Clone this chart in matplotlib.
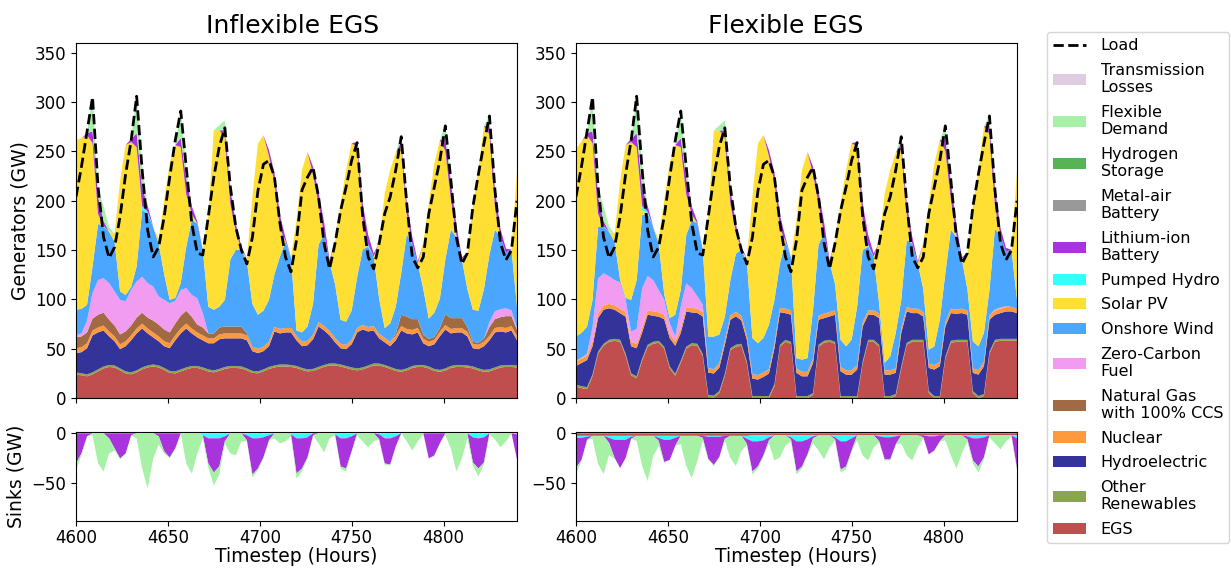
import matplotlib
matplotlib.use("Agg")
import matplotlib.pyplot as plt
from matplotlib.patches import Patch
from matplotlib.lines import Line2D

hours = list(range(4600, 4841, 3))

load = [204, 235, 270, 305, 214, 163, 142, 153, 184, 227, 261, 306, 231, 170, 143, 153,
        184, 224, 261, 291, 234, 177, 147, 145, 184, 224, 255, 274, 214, 173, 150, 136,
        163, 210, 237, 241, 224, 177, 143, 128, 160, 211, 224, 234, 204, 157, 131, 157,
        190, 214, 241, 259, 184, 143, 131, 157, 187, 204, 231, 265, 197, 143, 132, 143,
        187, 214, 241, 276, 221, 163, 136, 147, 194, 227, 258, 286, 211, 157, 140, 150, 200]

# ---------------- Inflexible EGS : generators ----------------
inf_egs = [24, 23, 22, 24, 27, 30, 31.5, 31, 28, 25, 24, 26, 29, 31, 32, 31,
           28.5, 25.5, 25, 27, 29, 30.5, 30.5, 29, 27, 26, 27.5, 29.5, 30.5, 30.5, 30, 28,
           25.5, 25, 27, 29.5, 31, 32, 32, 31.5, 30.5, 28.5, 27, 27.5, 29.5, 31.5, 33, 33,
           32, 30.5, 29, 28, 29, 31, 33, 33, 31.5, 29.5, 27.5, 26.5, 28, 30.5, 31.5, 31.5,
           30, 27.5, 26.5, 28, 30.5, 31.5, 31.5, 31, 30, 28, 26.5, 27, 29, 31, 31.5, 31.5, 31]
inf_other = [2, 2, 2, 2, 2, 2, 2, 2, 2, 2, 2, 2, 2, 2, 2, 2,
             2, 2, 2, 2, 2, 2, 2, 2, 2, 2, 2, 2, 2, 2, 2, 2,
             2, 2, 2, 2, 2, 2, 2, 2, 2, 2, 2, 2, 2, 2, 2, 2,
             2, 2, 2, 2, 2, 2, 2, 2, 2, 2, 2, 2, 2, 2, 2, 2,
             2, 2, 2, 2, 2, 2, 2, 2, 2, 2, 2, 2, 2, 2, 2, 2, 2]
inf_hydro = [19.5, 21.5, 26.5, 37.5, 37.5, 36.5, 29, 24.5, 19.5, 25.5, 32.5, 37.5, 39.5, 32.5, 27.5, 24.5,
             22, 23, 31.5, 36.5, 39.5, 33, 29, 27.5, 26.5, 27.5, 30, 29, 28, 28, 28.5, 28.5,
             20, 18.5, 18.5, 21, 34.5, 31.5, 32.5, 33, 26, 22, 24.5, 30, 41, 35, 28.5, 21.5,
             16.5, 17, 23.5, 36.5, 38.5, 34.5, 33.5, 25.5, 23, 21, 29, 40, 35.5, 32, 33, 22,
             20.5, 25, 34, 39.5, 33, 33, 33, 29.5, 18.5, 19.5, 24, 29.5, 35.5, 34.5, 33, 35, 25.5]
inf_nuclear = [5, 5, 5, 5, 5, 5, 5, 5, 5, 5, 5, 5, 5, 5, 5, 5,
               5, 5, 5, 5, 5, 5, 5, 5, 5, 5, 5, 5, 5, 5, 5, 5,
               4.5, 4.5, 4.5, 4.5, 4.5, 4.5, 4.5, 4.5, 4.5, 4.5, 4.5, 4.5, 4.5, 4.5, 4.5, 4.5,
               4.5, 4.5, 4.5, 4.5, 4.5, 4.5, 4.5, 4.5, 4.5, 4.5, 4.5, 4.5, 4.5, 4.5, 4.5, 4.5,
               4.5, 4.5, 4.5, 4.5, 4.5, 4.5, 4.5, 4.5, 4.5, 4.5, 4.5, 4.5, 4.5, 4.5, 4.5, 4.5, 4.5]
inf_gas = [11, 11, 11, 12, 13, 13, 12, 11, 10, 10, 10, 11, 11, 11, 12, 12,
           12, 11, 12, 13, 13, 12, 8, 8, 5, 5, 7, 7, 7, 7, 7, 2,
           0, 0, 0, 0, 0, 0, 0, 0, 0, 0, 0, 0, 0, 0, 0, 0,
           0, 0, 0, 0, 0, 0, 0, 0, 0, 0, 2, 11.5, 12.5, 11, 9, 4,
           3, 3, 4, 11, 11, 10, 10, 5, 2, 2, 3, 9, 9, 10, 12, 10, 6]
inf_zcf = [2, 3, 12, 26, 35, 35, 37, 34.5, 35, 30.5, 36, 36.5, 36.5, 35, 34.5, 28.5,
           30, 29.5, 23, 26, 23, 22, 26.5, 14.5, 0, 0, 0, 0, 0, 0, 0, 0,
           0, 0, 0, 0, 0, 0, 0, 0, 0, 0, 0, 0, 0, 0, 0, 0,
           0, 0, 0, 0, 0, 0, 0, 0, 0, 0, 0, 0, 0, 0, 0, 0,
           0, 0, 0, 0, 0, 0, 0, 0, 0, 0, 0, 5, 8, 8, 8, 6, 2]
inf_wind = [26, 25, 16, 27, 57, 52, 52, 50.5, 8.5, 6.5, 3, 15.5, 67.5, 70.5, 60.5, 53.5,
            26, 3.5, 3, 7, 42, 76, 76, 64.5, 27, 24, 21, 27, 68, 78, 78, 73,
            43.5, 34.5, 36.5, 42.5, 53.5, 73.5, 87.5, 71.5, 5.5, 9.5, 14.5, 31.5, 78.5, 93.5, 69.5, 54.5,
            24.3, 23.5, 29.5, 51.5, 76.5, 81.5, 70.5, 35.5, 10, 18.5, 27.5, 42.5, 83.5, 76.5, 56.5, 46.5,
            20.5, 24.5, 29.5, 55.5, 89.5, 82.5, 59.5, 38.5, 32.5, 32.5, 50.5, 68.5, 82.5, 73.5, 56.5, 61.5, 21.5]
inf_solar = [172, 173, 172, 125, 10, 0, 0, 8, 112.5, 152, 147, 121, 0, 0, 0, 5,
             75, 138.5, 155, 138, 53, 5, 0, 0, 92, 182, 179, 165, 56, 18, 0, 3,
             109, 173.5, 178, 146, 93, 27, 0, 0, 112, 165, 177, 131, 41, 0, 0, 44,
             118, 154, 170, 132, 30, 0, 0, 57, 136.5, 156, 156, 127, 21, 0, 0, 47,
             117, 151.5, 161, 110, 31, 0, 0, 37, 106, 143, 165, 122, 23, 0, 0, 0, 138]
inf_pumped = [0, 0, 0, 0, 0, 1, 0, 0, 0, 0, 0, 0, 4, 2, 0, 0,
              0, 0, 0, 0, 0, 1, 0, 0, 0, 0, 0, 0, 0, 0, 0, 0,
              0, 0, 0, 0, 0, 1, 1, 0, 0, 0, 0, 0, 0, 0, 0, 0,
              0, 0, 0, 0, 0, 2, 0, 0, 0, 0, 0, 0, 0, 0, 0, 0,
              0, 0, 0, 0, 0, 2, 0, 0, 0, 0, 0, 0, 0, 0, 0, 0, 0]
inf_liion = [0, 0, 2, 12, 18, 5, 0, 0, 0, 0, 3, 14, 19, 6, 0, 0,
             0, 0, 0, 9, 16, 8, 2, 0, 0, 0, 0, 7, 16, 8, 3, 0,
             0, 0, 0, 6, 10, 14, 3, 0, 0, 0, 0, 8, 12, 12, 2, 0,
             0, 0, 0, 5, 17, 10, 3, 0, 0, 0, 0, 6, 11, 7, 2, 0,
             0, 0, 0, 12, 18, 10, 2, 0, 0, 0, 0, 9, 18, 8, 4, 0, 0]
inf_flex = [0, 0, 0, 35, 8, 15, 5, 0, 0, 0, 0, 38, 22, 0, 0, 0,
            0, 0, 0, 28, 12, 0, 0, 0, 0, 0, 5, 10, 4, 0, 0, 0,
            0, 0, 0, 0, 0, 0, 0, 0, 0, 0, 0, 0, 0, 0, 0, 0,
            0, 0, 0, 0, 0, 0, 0, 0, 0, 0, 0, 7, 0, 0, 0, 0,
            0, 0, 0, 14, 3, 0, 0, 0, 0, 0, 0, 10, 0, 0, 0, 0, 0]

# ---------------- Flexible EGS : generators ----------------
flx_egs = [11.5, 10, 9, 22, 45, 53, 57, 58, 57, 43, 23, 20, 38, 52, 55, 56,
           50, 30, 22.6, 35.7, 50, 53.6, 53, 42.5, 1, 0.5, 5, 22.5, 48.5, 52, 53, 35,
           0, 0, 0, 0, 12, 52, 57, 55, 0, 0, 0, 3, 52, 56, 57, 55,
           0, 0, 0, 0, 35, 57, 57, 52, 0, 0, 2, 30, 54, 57, 57, 57,
           5, 0, 0, 40, 56, 57, 57, 57, 5, 0, 2, 45, 57, 58, 58, 58, 58]
flx_other = [2, 2, 2, 2, 2, 2, 2, 2, 2, 2, 2, 2, 2, 2, 2, 2,
             2, 2, 2, 2, 2, 2, 2, 2, 2, 2, 2, 2, 2, 2, 2, 2,
             2, 2, 2, 2, 2, 2, 2, 2, 2, 2, 2, 2, 2, 2, 2, 2,
             2, 2, 2, 2, 2, 2, 2, 2, 2, 2, 2, 2, 2, 2, 2, 2,
             2, 2, 2, 2, 2, 2, 2, 2, 2, 2, 2, 2, 2, 2, 2, 2, 2]
flx_hydro = [19, 23.5, 27.5, 28.5, 34, 34.5, 32, 29.5, 27, 37.5, 27.5, 28.5, 26.5, 30.5, 26.4, 24.5,
             28, 28.8, 28.4, 28.2, 35.6, 31.2, 31.2, 38.2, 22.8, 22.3, 23.8, 29.5, 28.8, 28.8, 23.8, 22,
             17.7, 16.7, 19.4, 22.8, 36.5, 33, 27, 27.5, 23.5, 20, 20, 30.5, 25.3, 23, 23.7, 27.4,
             25.1, 21.7, 21.7, 26.8, 35.5, 25.4, 25.4, 27, 21.7, 21.7, 21.5, 33.9, 31.8, 27.1, 27.1, 23.7,
             23.5, 26.8, 30.2, 30.5, 28.1, 26.4, 27.1, 25.4, 18.5, 21.7, 28.2, 32.3, 25.4, 26.1, 27.8, 27.8, 26.1]
flx_nuclear = [4.5, 4.5, 4.5, 4.5, 4.5, 4.5, 4.5, 4.5, 4.5, 4.5, 4.5, 4.5, 4.5, 4.5, 4.5, 4.5,
               4.5, 4.5, 4.5, 4.5, 4.5, 4.5, 4.5, 4.5, 4.5, 4.5, 4.5, 4.5, 4.5, 4.5, 4.5, 4.5,
               4.5, 4.5, 4.5, 4.5, 4.5, 4.5, 4.5, 4.5, 4.5, 4.5, 4.5, 4.5, 4.5, 4.5, 4.5, 4.5,
               4.5, 4.5, 4.5, 4.5, 4.5, 4.5, 4.5, 4.5, 4.5, 4.5, 4.5, 4.5, 4.5, 4.5, 4.5, 4.5,
               4.5, 4.5, 4.5, 4.5, 4.5, 4.5, 4.5, 4.5, 4.5, 4.5, 4.5, 4.5, 4.5, 4.5, 4.5, 4.5, 4.5]
flx_zcf = [0.5, 1, 2, 15, 35.5, 32.5, 28, 25.5, 27, 12.5, 10.5, 15, 40, 34.8, 31.6, 22.5,
           15, 10.7, 5, 22, 24.2, 20, 12.4, 7.3, 0, 0, 0, 0, 0, 0, 0, 0,
           0, 0, 0, 0, 0, 0, 0, 0, 0, 0, 0, 0, 0, 0, 0, 0,
           0, 0, 0, 0, 0, 0, 0, 0, 0, 0, 0, 0, 0, 0, 0, 0,
           0, 0, 0, 0, 0, 0, 0, 0, 0, 0, 0, 0, 1, 1, 1, 0, 0]
flx_wind = [25, 25, 27.5, 27.5, 52.5, 47, 45, 39, 2.4, 2, 32, 49.5, 74.5, 63.2, 54, 47,
            6, 5, 22, 17, 49, 69, 74, 56, 32, 33, 29, 24, 36, 59, 67, 75,
            36.6, 32.3, 35, 45, 44.5, 45, 68, 53.5, 10.5, 12.4, 14, 49.5, 72, 81, 50.3, 26.6,
            27.5, 24.2, 31, 59.2, 73, 64.6, 54.6, 10, 7.3, 14, 36, 29, 68, 66, 46, 23.3,
            14, 19, 42.6, 49.5, 80, 73.6, 50, 21.6, 27.5, 24.2, 29.2, 25.7, 81.6, 73, 55, 58, 9]
flx_solar = [190, 194, 194, 159, 13, 0, 0, 8, 100, 155, 160, 135, 5, 0, 0, 5,
             95, 157, 172, 145, 41, 5, 0, 0, 122, 209, 207, 182, 77, 22, 0, 3,
             143.7, 202.7, 205.7, 171, 119, 34, 0, 0, 140, 192.6, 209, 137, 41, 0, 0, 44,
             138.4, 179, 199.4, 162, 30.4, 0, 0, 62, 172, 189, 182.6, 153, 26, 0, 0, 47,
             148.5, 185.6, 182.2, 124, 31, 0, 0, 37, 138, 179, 209.6, 158, 23, 0, 0, 0, 131]
flx_pumped = [0, 0, 0, 0, 0, 1, 0, 0, 0, 0, 0, 0, 4, 2, 0, 0,
              0, 0, 0, 0, 0, 1, 0, 0, 0, 0, 0, 0, 0, 0, 0, 0,
              0, 0, 0, 0, 0, 1, 1, 0, 0, 0, 0, 0, 0, 0, 0, 0,
              0, 0, 0, 0, 0, 2, 0, 0, 0, 0, 0, 0, 0, 0, 0, 0,
              0, 0, 0, 0, 0, 2, 0, 0, 0, 0, 0, 0, 0, 0, 0, 0, 0]
flx_liion = [0, 0, 2, 12, 18, 5, 0, 0, 0, 0, 3, 14, 19, 6, 0, 0,
             0, 0, 0, 9, 16, 8, 2, 0, 0, 0, 0, 7, 16, 8, 3, 0,
             0, 0, 0, 6, 10, 14, 3, 0, 0, 0, 0, 8, 12, 12, 2, 0,
             0, 0, 0, 5, 17, 10, 3, 0, 0, 0, 0, 6, 11, 7, 2, 0,
             0, 0, 0, 12, 18, 10, 2, 0, 0, 0, 0, 9, 18, 8, 4, 0, 0]
flx_flex = [0, 0, 0, 35, 8, 15, 5, 0, 0, 0, 0, 38, 22, 0, 0, 0,
            0, 0, 0, 28, 12, 0, 0, 0, 0, 0, 5, 10, 4, 0, 0, 0,
            0, 0, 0, 0, 0, 0, 0, 0, 0, 0, 0, 0, 0, 0, 0, 0,
            0, 0, 0, 0, 0, 0, 0, 0, 0, 0, 0, 7, 0, 0, 0, 0,
            0, 0, 0, 14, 3, 0, 0, 0, 0, 0, 0, 10, 0, 0, 0, 0, 0]

# ---------------- Sinks ----------------
inf_sink_tl = [-0.8, -0.8, -0.8, -0.8, -0.8, -0.8, -0.8, -0.8, -0.8, -0.8, -0.8, -0.8, -0.8, -0.8, -0.8, -0.8,
               -0.8, -0.8, -0.8, -0.8, -0.8, -0.8, -0.8, -0.8, -0.8, -0.8, -0.8, -0.8, -0.8, -0.8, -0.8, -0.8,
               -0.8, -0.8, -0.8, -0.8, -0.8, -0.8, -0.8, -0.8, -0.8, -0.8, -0.8, -0.8, -0.8, -0.8, -0.8, -0.8,
               -0.8, -0.8, -0.8, -0.8, -0.8, -0.8, -0.8, -0.8, -0.8, -0.8, -0.8, -0.8, -0.8, -0.8, -0.8, -0.8,
               -0.8, -0.8, -0.8, -0.8, -0.8, -0.8, -0.8, -0.8, -0.8, -0.8, -0.8, -0.8, -0.8, -0.8, -0.8, -0.8, -0.8]
inf_sink_ph = [0, 0, 0, 0, 0, 0, 0, 0, 0, 0, 0, 0, 0, 0, 0, 0,
               0, 0, 0, 0, 0, 0, 0, -2, -5, -5, -5, -3, 0, 0, 0, -2,
               -5, -5, -4, -2, 0, 0, 0, -1, -5, -5, -4, 0, 0, 0, 0, -1,
               -5, -5, -3, 0, 0, 0, 0, -1, -5, -5, -3, 0, 0, 0, 0, 0,
               0, 0, 0, 0, 0, 0, 0, 0, -4, -5, -4, 0, 0, 0, 0, 0, -1]
inf_sink_li = [-30, -20, -3, 0, 0, 0, -5, -15, -25, -20, -2, 0, 0, 0, 0, -3,
               -18, -24, -15, 0, 0, 0, 0, 0, -25, -34, -28, -5, 0, 0, 0, -5,
               -36, -30, -20, -5, 0, 0, 0, 0, -35, -30, -20, -2, 0, 0, 0, 0,
               -28, -30, -15, 0, 0, 0, 0, -5, -25, -26, -10, 0, 0, 0, 0, 0,
               -25, -22, -10, 0, 0, 0, 0, 0, -25, -30, -25, 0, 0, 0, 0, 0, -25]
inf_sink_flex = [-6, -2, 0, -2, -30, -38, -15, -2, -1, 0, 0, -5, -35, -55, -25, -8,
                 -2, -1, 0, 0, -30, -40, -20, -3, -4, -13, -8, -2, -20, -22, -8, -1,
                 -3, -2, -1, 0, -5, -10, -8, -2, -5, -3, -1, 0, -10, -19, -5, -1,
                 -2, -3, -1, -2, -8, -14, -8, 0, -1, -1, 0, 0, -8, -17, -8, -1,
                 0, -1, 0, -2, -15, -38, -25, -5, -3, -8, -2, -1, -6, -14, -8, 0, 0]

flx_sink_tl = [-0.8, -0.8, -0.8, -0.8, -0.8, -0.8, -0.8, -0.8, -0.8, -0.8, -0.8, -0.8, -0.8, -0.8, -0.8, -0.8,
               -0.8, -0.8, -0.8, -0.8, -0.8, -0.8, -0.8, -0.8, -0.8, -0.8, -0.8, -0.8, -0.8, -0.8, -0.8, -0.8,
               -0.8, -0.8, -0.8, -0.8, -0.8, -0.8, -0.8, -0.8, -0.8, -0.8, -0.8, -0.8, -0.8, -0.8, -0.8, -0.8,
               -0.8, -0.8, -0.8, -0.8, -0.8, -0.8, -0.8, -0.8, -0.8, -0.8, -0.8, -0.8, -0.8, -0.8, -0.8, -0.8,
               -0.8, -0.8, -0.8, -0.8, -0.8, -0.8, -0.8, -0.8, -0.8, -0.8, -0.8, -0.8, -0.8, -0.8, -0.8, -0.8, -0.8]
flx_sink_egs = [-2.5, -2.5, -2.5, -2.5, -2.5, -2.5, -2.5, -2.5, -2.5, -2.5, -2.5, -2.5, -2.5, -2.5, -2.5, -2.5,
                -2.5, -2.5, -2.5, -2.5, -2.5, -2.5, -2.5, -2.5, -2.5, -2.5, -2.5, -2.5, -2.5, -2.5, -2.5, -2.5,
                -2, -2, -2, -2, -2, -2, -2, -2, -2, -2, -2, -2, -2, -2, -2, -2,
                -2, -2, -2, -2, -2, -2, -2, -2, -2, -2, -2, -2, -2, -2, -2, -2,
                -2, -2, -2, -2, -2, -2, -2, -2, -2, -2, -2, -2, -2, -2, -2, -2, -2]
flx_sink_ph = [-2, -2, -1, 0, 0, 0, -2, -4, -4, -4, -1, 0, 0, 0, 0, -2,
               -4, -4, -2, 0, 0, 0, 0, 0, -1, -1, -1, 0, 0, 0, 0, -3,
               -6, -6, -5, -2, 0, 0, 0, -2, -6, -6, -4, -1, 0, 0, 0, -2,
               -6, -6, -3, 0, 0, 0, 0, -1, -2, -2, -1, 0, 0, 0, 0, 0,
               -1, -1, 0, 0, 0, 0, 0, -1, -3, -3, -2, 0, 0, 0, 0, 0, -3]
flx_sink_li = [-30, -22, -3, 0, 0, 0, -5, -18, -28, -18, -2, 0, 0, 0, 0, -3,
               -22, -20, -8, 0, 0, 0, 0, -2, -22, -28, -20, -3, 0, 0, 0, -5,
               -30, -25, -15, -3, 0, 0, 0, -2, -30, -25, -15, -2, 0, 0, 0, -2,
               -28, -25, -12, 0, 0, 0, 0, -5, -22, -22, -8, 0, 0, 0, 0, -2,
               -18, -14, -6, 0, 0, 0, 0, -3, -22, -28, -20, 0, 0, 0, 0, 0, -30]
flx_sink_flex = [-6, -1, 0, -3, -28, -38, -12, -1, 0, 0, 0, -5, -30, -45, -20, -5,
                 -1, 0, 0, -8, -30, -42, -25, -3, -1, -1, 0, -2, -22, -30, -15, -1,
                 -3, -2, -1, -3, -25, -22, -10, -2, -3, -2, -1, -5, -15, -24, -12, -1,
                 -3, -3, -1, -5, -20, -25, -12, -1, -1, -1, 0, -8, -20, -25, -12, -1,
                 0, -1, 0, -5, -20, -33, -18, -2, -3, -6, -2, -2, -8, -14, -6, -1, -2]

# ---------------- styling ----------------
C = {
    "Transmission Losses": "#e0cce0",
    "Flexible Demand": "#a6f1a6",
    "Hydrogen Storage": "#56b356",
    "Metal-air Battery": "#999999",
    "Lithium-ion Battery": "#a933dc",
    "Pumped Hydro": "#33ffff",
    "Solar PV": "#ffdf33",
    "Onshore Wind": "#4ba6ff",
    "Zero-Carbon Fuel": "#f19bf1",
    "Natural Gas with 100% CCS": "#a26a42",
    "Nuclear": "#ff993e",
    "Hydroelectric": "#333399",
    "Other Renewables": "#89a54f",
    "EGS": "#c14e4e",
}

fig = plt.figure(figsize=(12.31, 5.68), dpi=100)
W, H = 1231.0, 568.0


def ax_at(x0, y0, x1, y1):
    return fig.add_axes([x0 / W, 1 - y1 / H, (x1 - x0) / W, (y1 - y0) / H])


ax_it = ax_at(76, 43, 517, 398)
ax_ib = ax_at(76, 432, 517, 521)
ax_ft = ax_at(576, 43, 1017, 398)
ax_fb = ax_at(576, 432, 1017, 521)

top_keys = ["EGS", "Other Renewables", "Hydroelectric", "Nuclear", "Natural Gas with 100% CCS",
            "Zero-Carbon Fuel", "Onshore Wind", "Solar PV", "Pumped Hydro", "Lithium-ion Battery",
            "Flexible Demand"]

inf_top = [inf_egs, inf_other, inf_hydro, inf_nuclear, inf_gas, inf_zcf, inf_wind, inf_solar,
           inf_pumped, inf_liion, inf_flex]
flx_top = [flx_egs, flx_other, flx_hydro, flx_nuclear, None, flx_zcf, flx_wind, flx_solar,
           flx_pumped, flx_liion, flx_flex]


def draw_top(ax, data, title, tx):
    ser, cols = [], []
    for k, d in zip(top_keys, data):
        if d is None:
            continue
        ser.append(d)
        cols.append(C[k])
    ax.stackplot(hours, *ser, colors=cols, linewidth=0)
    ax.plot(hours, load, color="black", linestyle="--", linewidth=2)
    ax.set_xlim(4600, 4840)
    ax.set_ylim(0, 360)
    ax.set_yticks([0, 50, 100, 150, 200, 250, 300, 350])
    ax.set_xticks([4600, 4650, 4700, 4750, 4800])
    ax.set_xticklabels([])
    ax.tick_params(labelsize=12)
    ax.set_title(title, fontsize=18, pad=7, x=tx)


def draw_bottom(ax, ser, keys):
    ax.stackplot(hours, *ser, colors=[C[k] for k in keys], linewidth=0)
    ax.set_xlim(4600, 4840)
    ax.set_ylim(-88, 0.5)
    ax.set_yticks([0, -50])
    ax.set_xticks([4600, 4650, 4700, 4750, 4800])
    ax.tick_params(labelsize=12)
    ax.tick_params(axis="x", pad=2.5)
    ax.set_xlabel("Timestep (Hours)", fontsize=13.5, labelpad=0)


draw_top(ax_it, inf_top, "Inflexible EGS", 0.492)
draw_top(ax_ft, flx_top, "Flexible EGS", 0.475)
ax_it.set_ylabel("Generators (GW)", fontsize=13.5)

draw_bottom(ax_ib, [inf_sink_tl, inf_sink_ph, inf_sink_li, inf_sink_flex],
            ["Transmission Losses", "Pumped Hydro", "Lithium-ion Battery", "Flexible Demand"])
draw_bottom(ax_fb, [flx_sink_tl, flx_sink_egs, flx_sink_ph, flx_sink_li, flx_sink_flex],
            ["Transmission Losses", "EGS", "Pumped Hydro", "Lithium-ion Battery", "Flexible Demand"])
ax_ib.set_ylabel("Sinks (GW)", fontsize=13.5)

legend_items = [
    ("Transmission Losses", "Transmission\nLosses"),
    ("Flexible Demand", "Flexible\nDemand"),
    ("Hydrogen Storage", "Hydrogen\nStorage"),
    ("Metal-air Battery", "Metal-air\nBattery"),
    ("Lithium-ion Battery", "Lithium-ion\nBattery"),
    ("Pumped Hydro", "Pumped Hydro"),
    ("Solar PV", "Solar PV"),
    ("Onshore Wind", "Onshore Wind"),
    ("Zero-Carbon Fuel", "Zero-Carbon\nFuel"),
    ("Natural Gas with 100% CCS", "Natural Gas\nwith 100% CCS"),
    ("Nuclear", "Nuclear"),
    ("Hydroelectric", "Hydroelectric"),
    ("Other Renewables", "Other\nRenewables"),
    ("EGS", "EGS"),
]
handles = [Line2D([0], [0], color="black", linestyle="--", linewidth=2)]
labels = ["Load"]
for k, lab in legend_items:
    handles.append(Patch(facecolor=C[k], edgecolor="none"))
    labels.append(lab)

fig.legend(handles, labels, loc="upper left", bbox_to_anchor=(1047 / W, 1 - 32 / H),
           fontsize=11.5, frameon=True, borderaxespad=0, labelspacing=0.6,
           handlelength=2.05, handletextpad=0.9, borderpad=0.4)

fig.savefig("out.png", dpi=100)
